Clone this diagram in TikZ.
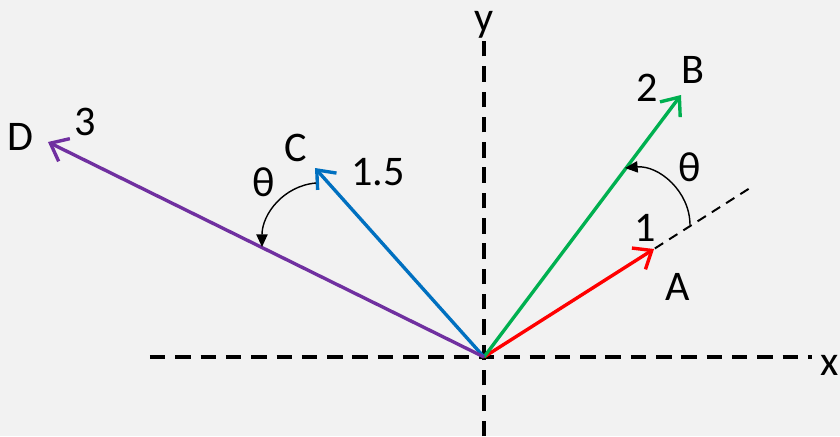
\documentclass[tikz,border=0pt]{standalone}
\usepackage{fontspec}
\setmainfont{Carlito}
\usetikzlibrary{arrows.meta}
\definecolor{bggray}{RGB}{242,242,242}
\definecolor{vred}{RGB}{255,0,0}
\definecolor{vgreen}{RGB}{0,176,80}
\definecolor{vblue}{RGB}{0,112,192}
\definecolor{vpurple}{RGB}{112,48,160}
\tikzset{
  axis/.style={line width=2.6pt, dash pattern=on 11pt off 7pt},
  guide/.style={line width=1.4pt, dash pattern=on 7pt off 5pt},
  vec/.style={line width=2.4pt, -{Straight Barb[length=11pt,width=18pt,line width=2.4pt]}},
  turn/.style={line width=1pt, -{Triangle[length=9pt,width=8pt]}},
  lbl/.style={font=\fontsize{30}{36}\selectfont, inner sep=0pt}
}
\begin{document}
\begin{tikzpicture}[x=1cm,y=1cm]
\fill[bggray] (-12.1,-1.975) rectangle (8.9,8.925);
\useasboundingbox (-12.1,-1.975) rectangle (8.9,8.925);

% axes
\coordinate (O) at (0,0);
\coordinate (xl) at (-8.35,0);
\coordinate (xr) at (8.2,0);
\coordinate (yt) at (0,7.925);
\coordinate (yb) at (0,-1.975);
\draw[axis] (xl) -- (xr);
\draw[axis] (yb) -- (yt);
\node[lbl] (xlab) at (8.65,-0.2) {x};
\node[lbl] (ylab) at (0,8.3) {y};

% vector tips
\coordinate (A) at (4.25,2.7);
\coordinate (B) at (4.925,6.55);
\coordinate (C) at (-4.225,4.725);
\coordinate (D) at (-10.9,5.375);
\coordinate (Aext) at (6.65,4.225);

% dashed extension of A
\draw[guide] (O) -- (Aext);

% vectors
\draw[vec, vred] (O) -- (A);
\draw[vec, vgreen] (O) -- (B);
\draw[vec, vblue] (O) -- (C);
\draw[vec, vpurple] (O) -- (D);

% rotation arcs
\coordinate (r1s) at (5.15,3.3);
\coordinate (r1e) at (3.525,4.725);
\coordinate (r2s) at (-4.2,4.35);
\coordinate (r2e) at (-5.55,2.75);
\draw[turn] (r1s) to[out=90,in=5] (r1e);
\draw[turn] (r2s) to[out=185,in=90] (r2e);

% labels
\node[lbl] (Alab) at (4.85,1.75) {A};
\node[lbl] (Anum) at (4.025,3.225) {1};
\node[lbl] (Blab) at (5.225,7.175) {B};
\node[lbl] (Bnum) at (4.075,6.725) {2};
\node[lbl] (Clab) at (-4.7,5.225) {C};
\node[lbl] (Cnum) at (-2.65,4.625) {1.5};
\node[lbl] (Dlab) at (-11.6,5.5) {D};
\node[lbl] (Dnum) at (-9.975,5.875) {3};
\node[lbl] (th1) at (5.15,4.75) {θ};
\node[lbl] (th2) at (-5.5,4.375) {θ};
\end{tikzpicture}
\end{document}
